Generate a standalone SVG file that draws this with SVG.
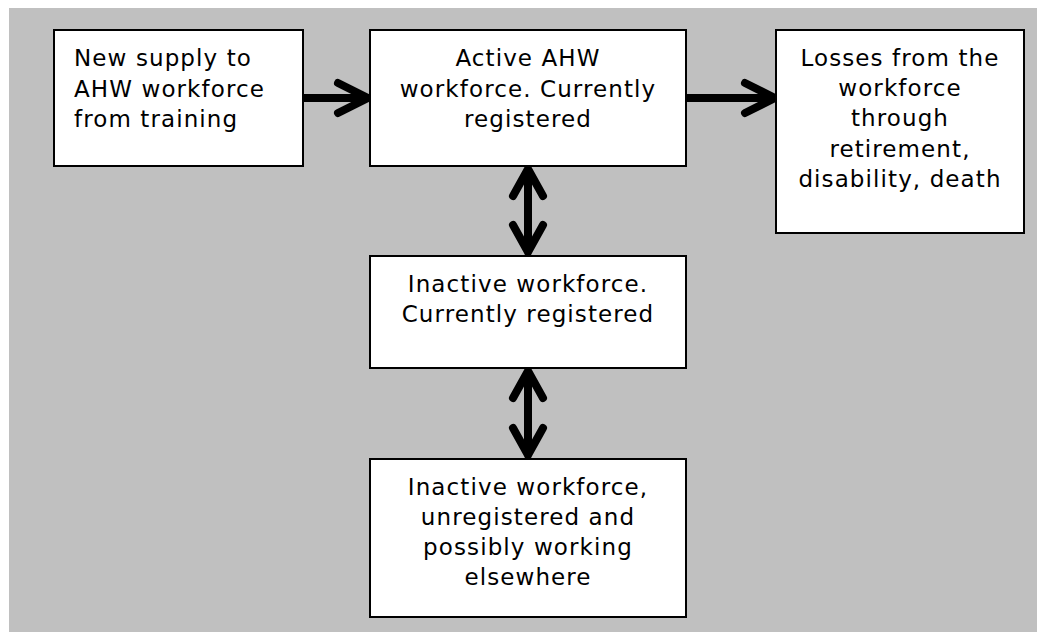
<svg xmlns="http://www.w3.org/2000/svg" width="1037" height="632" viewBox="0 0 1037 632">
<style>
.box{fill:#fff;stroke:#000;stroke-width:2}
.t{font-family:"DejaVu Sans",Verdana,sans-serif;font-size:23px;letter-spacing:1.1px;fill:#000}
.c{text-anchor:middle}
.ln{fill:none;stroke:#000;stroke-width:8;stroke-linecap:round;stroke-linejoin:round}
</style>
<rect x="0" y="0" width="1037" height="632" fill="#fff"/>
<rect x="9" y="8" width="1028" height="624" fill="#c0c0c0"/>
<g id="connectors">
<path class="ln" d="M303 98H366M338 83L368 98L338 113"/>
<path class="ln" d="M686 98H772M745 83L775 98L745 113"/>
<path class="ln" d="M528 170V252M513 196L528 169L543 196M513 225L528 252L543 225"/>
<path class="ln" d="M528 372V455M513 398L528 371L543 398M513 428L528 455L543 428"/>
</g>
<g id="n1">
<rect class="box" x="54" y="30" width="249" height="136"/>
<text class="t" x="74" y="66">New supply to</text>
<text class="t" x="74" y="97">AHW workforce</text>
<text class="t" x="74" y="127">from training</text>
</g>
<g id="n2">
<rect class="box" x="370" y="30" width="316" height="136"/>
<text class="t c" x="528" y="66">Active AHW</text>
<text class="t c" x="528" y="97">workforce. Currently</text>
<text class="t c" x="528" y="127">registered</text>
</g>
<g id="n3">
<rect class="box" x="776" y="30" width="248" height="203"/>
<text class="t c" x="900" y="66">Losses from the</text>
<text class="t c" x="900" y="96">workforce</text>
<text class="t c" x="900" y="126">through</text>
<text class="t c" x="900" y="157">retirement,</text>
<text class="t c" x="900" y="187">disability, death</text>
</g>
<g id="n4">
<rect class="box" x="370" y="256" width="316" height="112"/>
<text class="t c" x="528" y="292">Inactive workforce.</text>
<text class="t c" x="528" y="322">Currently registered</text>
</g>
<g id="n5">
<rect class="box" x="370" y="459" width="316" height="158"/>
<text class="t c" x="528" y="495">Inactive workforce,</text>
<text class="t c" x="528" y="525">unregistered and</text>
<text class="t c" x="528" y="555">possibly working</text>
<text class="t c" x="528" y="585">elsewhere</text>
</g>
</svg>
